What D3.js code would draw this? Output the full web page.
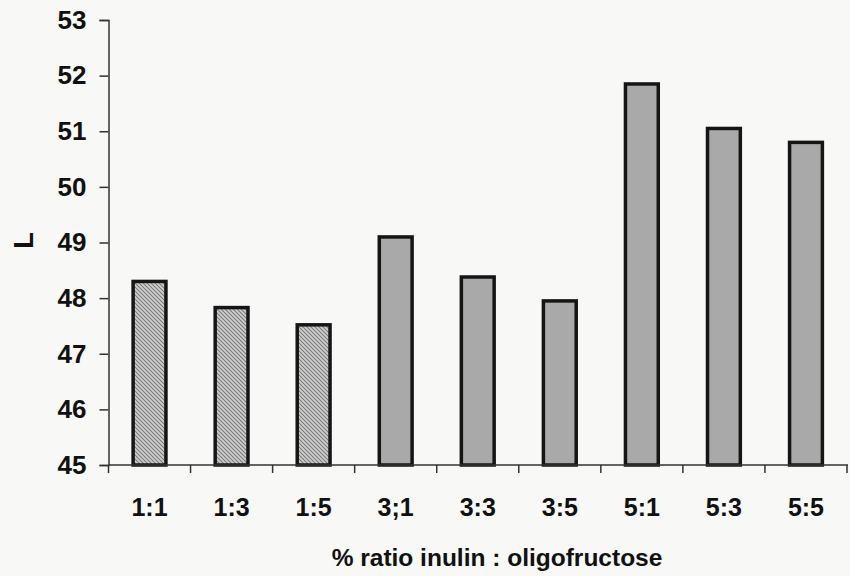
<!DOCTYPE html>
<html>
<head>
<meta charset="utf-8">
<script src="https://cdn.jsdelivr.net/npm/d3@7"></script>
<style>
  html, body { margin: 0; padding: 0; background: #f8f8f7; }
  svg { display: block; }
  text { font-family: "Liberation Sans", Arial, sans-serif; fill: #111; }
</style>
</head>
<body>
<svg id="chart" width="850" height="576"></svg>
<script>
// Lightness (L) by inulin : oligofructose ratio
const categories = ["1:1", "1:3", "1:5", "3;1", "3:3", "3:5", "5:1", "5:3", "5:5"];
const lValues = [48.3, 47.83, 47.52, 49.1, 48.38, 47.95, 51.85, 51.05, 50.8];
const hatched = [true, true, true, false, false, false, false, false, false];
const yTicks = [45, 46, 47, 48, 49, 50, 51, 52, 53];
const xTitle = "% ratio inulin : oligofructose";
const yTitle = "L";

const svg = d3.select("#chart");
const margin = { left: 108.5, right: 3, top: 20, bottom: 111 };
const W = 850, H = 576;

const x = d3.scaleBand()
  .domain(categories)
  .range([margin.left, W - margin.right])
  .paddingInner(0.6)
  .paddingOuter(0.3);

const y = d3.scaleLinear()
  .domain([45, 53])
  .range([H - margin.bottom, margin.top]);

// diagonal hatch used for the first group of bars
const defs = svg.append("defs");
const pat = defs.append("pattern")
  .attr("id", "hatch")
  .attr("patternUnits", "userSpaceOnUse")
  .attr("width", 4).attr("height", 4);
pat.append("rect").attr("width", 4).attr("height", 4).attr("fill", "#d0d0d0");
pat.append("path")
  .attr("d", "M-1,-1L5,5M-1,3L1,5M3,-1L5,1")
  .attr("stroke", "#7a7a7a")
  .attr("stroke-width", 1.1);

// bars
svg.append("g")
  .selectAll("rect")
  .data(categories.map((c, i) => ({ c, v: lValues[i], h: hatched[i] })))
  .join("rect")
  .attr("x", d => x(d.c))
  .attr("y", d => y(d.v))
  .attr("width", x.bandwidth())
  .attr("height", d => y(45) - y(d.v))
  .attr("fill", d => d.h ? "url(#hatch)" : "#a9a9a9")
  .attr("stroke", "#151515")
  .attr("stroke-width", 3.5);

// y axis
const yAxis = svg.append("g")
  .attr("transform", `translate(${margin.left},0)`)
  .call(d3.axisLeft(y).tickValues(yTicks).tickSize(9).tickPadding(13).tickFormat(d3.format("d")));
yAxis.select(".domain").attr("stroke", "#333").attr("stroke-width", 1.5);
yAxis.selectAll(".tick line").attr("stroke", "#333").attr("stroke-width", 1.5);
yAxis.selectAll(".tick text")
  .style("font-size", "26px").style("font-weight", "bold")
  .attr("fill", "#111");

// x axis: line with ticks at category boundaries
const xAxisG = svg.append("g").attr("transform", `translate(0,${y(45)})`);
xAxisG.append("line")
  .attr("x1", margin.left).attr("x2", W - 2)
  .attr("stroke", "#333").attr("stroke-width", 1.5);
const boundaries = categories.map(c => x(c) - x.step() * x.paddingInner() / 2)
  .concat([W - margin.right]);
xAxisG.selectAll("line.tk")
  .data(boundaries)
  .join("line")
  .attr("class", "tk")
  .attr("x1", d => d).attr("x2", d => d)
  .attr("y1", 0).attr("y2", 8)
  .attr("stroke", "#333").attr("stroke-width", 1.5);
xAxisG.selectAll("text")
  .data(categories)
  .join("text")
  .attr("x", d => x(d) + x.bandwidth() / 2)
  .attr("y", 51)
  .attr("text-anchor", "middle")
  .style("font-size", "25px").style("font-weight", "bold")
  .text(d => d);

// axis titles
svg.append("text")
  .attr("x", 497).attr("y", 566)
  .attr("text-anchor", "middle")
  .style("font-size", "24.5px").style("font-weight", "bold")
  .text(xTitle);

svg.append("text")
  .attr("transform", `translate(33,${y(49) - 2}) rotate(-90)`)
  .attr("text-anchor", "middle")
  .style("font-size", "27px").style("font-weight", "bold")
  .text(yTitle);
</script>
</body>
</html>
